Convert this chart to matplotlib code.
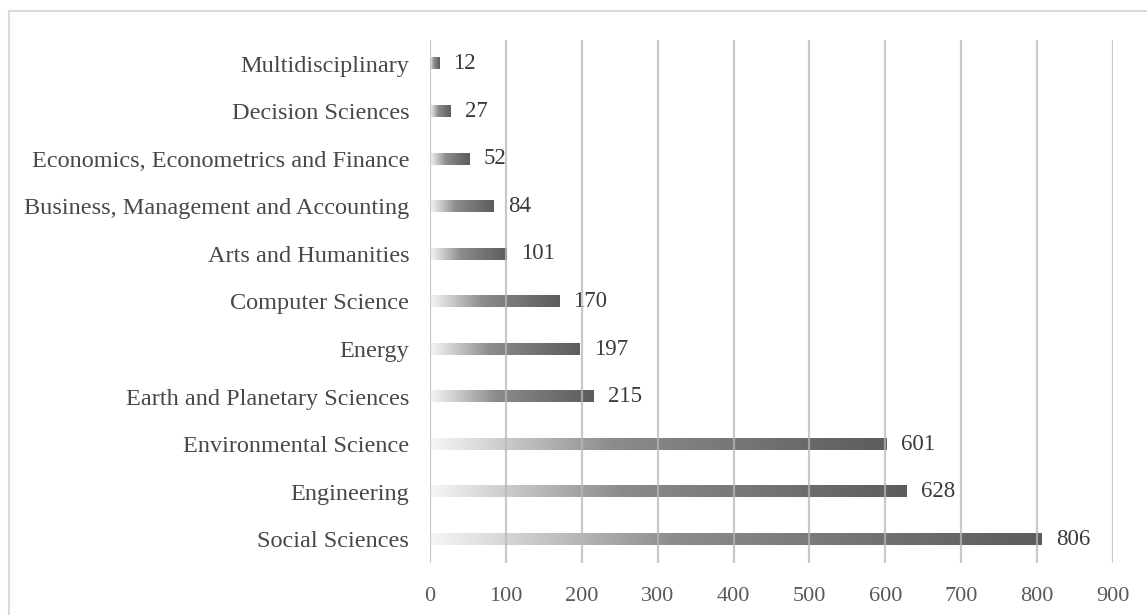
import matplotlib.pyplot as plt
import numpy as np
from matplotlib.colors import LinearSegmentedColormap
from matplotlib.patches import Rectangle

# Subject areas, bottom to top
categories = [
    "Social Sciences",
    "Engineering",
    "Environmental Science",
    "Earth and Planetary Sciences",
    "Energy",
    "Computer Science",
    "Arts and Humanities",
    "Business, Management and Accounting",
    "Economics, Econometrics and Finance",
    "Decision Sciences",
    "Multidisciplinary",
]
counts = [806, 628, 601, 215, 197, 170, 101, 84, 52, 27, 12]
x_ticks = [0, 100, 200, 300, 400, 500, 600, 700, 800, 900]

plt.rcParams['font.family'] = ['Liberation Serif', 'DejaVu Serif']

fig = plt.figure(figsize=(11.47, 6.15), dpi=100)
ax = fig.add_axes([0.3749, 0.0846, 0.5955, 0.8504])

# light-to-dark fade used inside every bar
fade = LinearSegmentedColormap.from_list(
    "fade", [(0.0, "#f6f6f6"), (0.4, "#8c8c8c"), (1.0, "#5c5c5c")])
grad = np.linspace(0, 1, 256).reshape(1, -1)

bar_h = 0.24
y = np.arange(len(categories))
for yi, v in zip(y, counts):
    ax.imshow(grad, cmap=fade, aspect="auto", interpolation="bicubic",
              extent=(0, v, yi - bar_h / 2, yi + bar_h / 2), zorder=2)
    ax.text(v + 19, yi, str(v), va="center", ha="left",
            fontsize=16.5, color="#3a3a3a")

for t in x_ticks:
    ax.axvline(t, color="#b8b8b8", lw=1.6, alpha=0.75, zorder=3)

ax.set_xlim(0, 900)
ax.set_ylim(-0.5, len(categories) - 0.5)
ax.set_xticks(x_ticks)
ax.set_yticks(y)
ax.set_yticklabels(categories)
ax.tick_params(axis="x", length=0, pad=17, labelsize=16, labelcolor="#595959")
ax.tick_params(axis="y", length=0, pad=15, labelsize=17.5, labelcolor="#484848")
for s in ax.spines.values():
    s.set_visible(False)

# outer frame, running off the right and bottom edges
fig.patches.append(Rectangle((0.0078, -0.05), 1.1, 1.032, transform=fig.transFigure,
                             fill=False, edgecolor="#d9d9d9", lw=1.5))

fig.savefig("out.png", dpi=100)
